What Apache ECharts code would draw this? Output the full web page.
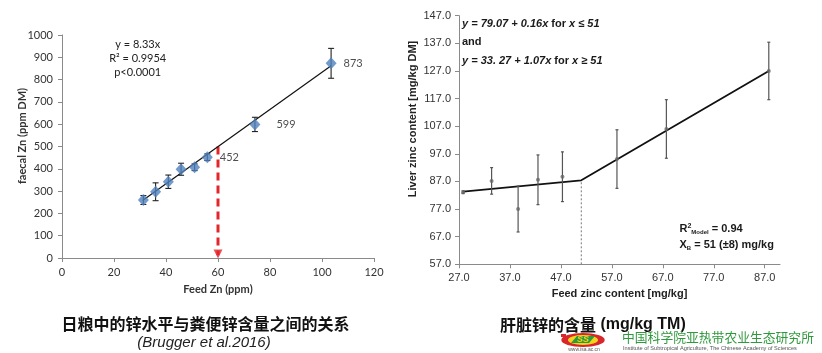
<!DOCTYPE html>
<html>
<head>
<meta charset="utf-8">
<script src="https://cdn.jsdelivr.net/npm/echarts@6/dist/echarts.min.js"></script>
<style>
  html, body { margin: 0; padding: 0; background: #fff; }
  #chart { width: 822px; height: 353px; }
</style>
</head>
<body>
<div id="chart"></div>
<script>
// left panel: feed Zn vs faecal Zn
var feedZn = [31.3, 36.0, 40.9, 45.8, 51.0, 55.9, 74.2, 103.5];
var faecalZn = [260, 297, 342, 398, 407, 452, 599, 873];
var faecalErr = [20, 40, 30, 27, 15, 15, 32, 67];
var labelled = { 452: 7, 599: 16, 873: 7 };   // value -> label distance
var fitX = [31.0, 103.5];
var fitY = [258, 862];
var arrowX = 60;
var arrowTop = 500;

// right panel: feed zinc vs liver zinc
var liverX = [27.8, 33.4, 38.6, 42.5, 47.3, 58.0, 67.7, 87.8];
var liverZn = [83.1, 87.2, 77.0, 87.6, 88.7, 95.1, 106.0, 127.0];
var liverErr = [0.5, 4.8, 8.3, 9.0, 9.0, 10.6, 10.6, 10.4];
var brokenX = [27.8, 51, 87.8];
var brokenY = [83.3, 87.4, 127.0];
var breakX = 51;
var rightXTicks = [27, 37, 47, 57, 67, 77, 87];
var rightYTicks = [57, 67, 77, 87, 97, 107, 117, 127, 137, 147];

var chart = echarts.init(document.getElementById('chart'), null, { renderer: 'canvas' });

function errorBars(color, width, cap) {
  return function (params, api) {
    var x = api.value(0), lo = api.value(1), hi = api.value(2);
    var a = api.coord([x, lo]), b = api.coord([x, hi]);
    var st = { stroke: color, lineWidth: width };
    var kids = [{ type: 'line', shape: { x1: a[0], y1: a[1], x2: b[0], y2: b[1] }, style: st }];
    if (cap > 0) {
      kids.push({ type: 'line', shape: { x1: a[0] - cap, y1: a[1], x2: a[0] + cap, y2: a[1] }, style: st });
      kids.push({ type: 'line', shape: { x1: b[0] - cap, y1: b[1], x2: b[0] + cap, y2: b[1] }, style: st });
    }
    return { type: 'group', children: kids };
  };
}

var leftErrData = feedZn.map(function (x, i) { return [x, faecalZn[i] - faecalErr[i], faecalZn[i] + faecalErr[i]]; });
var rightErrData = liverX.map(function (x, i) { return [x, liverZn[i] - liverErr[i], liverZn[i] + liverErr[i]]; });

var leftPoints = feedZn.map(function (x, i) {
  var v = faecalZn[i];
  var item = { value: [x, v] };
  if (labelled[v] !== undefined) {
    item.label = { show: true, position: 'right', distance: labelled[v], formatter: String(v) };
  }
  return item;
});

var axisGrey = '#8a8a8a';
var latoTxt = { fontFamily: 'Lato', fontSize: 11, color: '#333' };
var arialTxt = { fontFamily: 'Liberation Sans', fontSize: 11, color: '#333' };

var option = {
  backgroundColor: '#fff',
  animation: false,
  grid: [
    { left: 62, right: 448, top: 35, bottom: 95 },
    { left: 459, right: 42, top: 15.7, bottom: 88.7 }
  ],
  xAxis: [
    {
      gridIndex: 0, type: 'value', min: 0, max: 120, interval: 20,
      name: 'Feed Zn (ppm)', nameLocation: 'middle', nameGap: 26,
      nameTextStyle: { fontFamily: 'Lato', fontSize: 11, fontWeight: 'bold', color: '#333' },
      axisLine: { lineStyle: { color: axisGrey } },
      axisTick: { length: 4, lineStyle: { color: axisGrey } },
      axisLabel: Object.assign({ margin: 9, formatter: function (v) { return String(v); } }, latoTxt),
      splitLine: { show: false }
    },
    {
      gridIndex: 1, type: 'value', min: 27, max: 90,
      name: 'Feed zinc content [mg/kg]', nameLocation: 'middle', nameGap: 22,
      nameTextStyle: { fontFamily: 'Liberation Sans', fontSize: 11, fontWeight: 'bold', color: '#222' },
      axisLine: { lineStyle: { color: axisGrey } },
      axisTick: { length: 4, lineStyle: { color: axisGrey }, customValues: rightXTicks },
      axisLabel: Object.assign({ margin: 8, customValues: rightXTicks, formatter: function (v) { return v.toFixed(1); } }, arialTxt),
      splitLine: { show: false }
    }
  ],
  yAxis: [
    {
      gridIndex: 0, type: 'value', min: 0, max: 1000, interval: 100,
      axisLine: { show: true, lineStyle: { color: axisGrey } },
      axisTick: { show: true, length: 4, lineStyle: { color: axisGrey } },
      axisLabel: Object.assign({ margin: 9, formatter: function (v) { return String(v); } }, latoTxt),
      splitLine: { show: false }
    },
    {
      gridIndex: 1, type: 'value', min: 57, max: 147,
      axisLine: { show: true, lineStyle: { color: axisGrey } },
      axisTick: { show: true, length: 4, lineStyle: { color: axisGrey }, customValues: rightYTicks },
      axisLabel: Object.assign({ margin: 8, customValues: rightYTicks, formatter: function (v) { return v.toFixed(1); } }, arialTxt),
      splitLine: { show: false }
    }
  ],
  series: [
    {
      type: 'line', xAxisIndex: 0, yAxisIndex: 0, symbol: 'none', silent: true,
      data: [[arrowX, arrowTop], [arrowX, 12]],
      lineStyle: { color: '#e3262b', width: 3, type: [8, 5] }, z: 3
    },
    {
      type: 'scatter', xAxisIndex: 0, yAxisIndex: 0, silent: true,
      data: [[arrowX, 18]], symbol: 'triangle', symbolRotate: 180, symbolSize: [9, 9],
      itemStyle: { color: '#e3262b' }, z: 3
    },
    {
      type: 'line', xAxisIndex: 0, yAxisIndex: 0, symbol: 'none', silent: true,
      data: fitX.map(function (x, i) { return [x, fitY[i]]; }),
      lineStyle: { color: '#111', width: 1.2 }, z: 4
    },
    {
      type: 'custom', xAxisIndex: 0, yAxisIndex: 0, silent: true,
      renderItem: errorBars('#222', 1.1, 3), data: leftErrData, z: 5
    },
    {
      type: 'scatter', xAxisIndex: 0, yAxisIndex: 0, silent: true,
      data: leftPoints, symbol: 'diamond', symbolSize: [11, 12],
      itemStyle: { color: '#4f81bd' },
      label: { show: false, fontFamily: 'Lato', fontSize: 11, color: '#222' }, z: 6
    },
    {
      type: 'line', xAxisIndex: 1, yAxisIndex: 1, symbol: 'none', silent: true,
      data: [[breakX, 57], [breakX, brokenY[1]]],
      lineStyle: { color: '#777', width: 1, type: [2, 2] }, z: 3
    },
    {
      type: 'line', xAxisIndex: 1, yAxisIndex: 1, symbol: 'none', silent: true,
      data: brokenX.map(function (x, i) { return [x, brokenY[i]]; }),
      lineStyle: { color: '#111', width: 1.8 }, z: 4
    },
    {
      type: 'custom', xAxisIndex: 1, yAxisIndex: 1, silent: true,
      renderItem: errorBars('#555', 1.2, 1.5), data: rightErrData, z: 5
    },
    {
      type: 'scatter', xAxisIndex: 1, yAxisIndex: 1, silent: true,
      data: liverX.map(function (x, i) { return [x, liverZn[i]]; }),
      symbol: 'circle', symbolSize: 4, itemStyle: { color: '#666' }, z: 6
    }
  ],
  graphic: [
    // left annotation
    {
      type: 'text', x: 137.7, y: 58,
      style: {
        text: 'y = 8.33x\nR² = 0.9954\np<0.0001', align: 'center', verticalAlign: 'middle',
        lineHeight: 14, fontFamily: 'Lato', fontSize: 11, fill: '#222'
      }
    },
    {
      type: 'text', x: 22.7, y: 136, rotation: Math.PI / 2,
      style: {
        text: 'faecal Zn (ppm DM)', align: 'center', verticalAlign: 'middle',
        fontFamily: 'Lato', fontSize: 11, fontWeight: 'bold', fill: '#333'
      }
    },
    {
      type: 'text', x: 413.3, y: 119, rotation: Math.PI / 2,
      style: {
        text: 'Liver zinc content [mg/kg DM]', align: 'center', verticalAlign: 'middle',
        fontFamily: 'Liberation Sans', fontSize: 11, fontWeight: 'bold', fill: '#222'
      }
    },
    // right annotations
    {
      type: 'text', x: 462, y: 42.3,
      style: {
        text: '{i|y = 79.07 + 0.16x}{n| for }{i|x ≤ 51}\n{n|and}\n{i|y = 33. 27 + 1.07x}{n| for }{i|x ≥ 51}',
        verticalAlign: 'middle', lineHeight: 18.3,
        rich: {
          i: { fontFamily: 'Liberation Sans', fontSize: 11, fontWeight: 'bold', fontStyle: 'italic', fill: '#1a1a1a', lineHeight: 18.3 },
          n: { fontFamily: 'Liberation Sans', fontSize: 11, fontWeight: 'bold', fill: '#1a1a1a', lineHeight: 18.3 }
        }
      }
    },
    {
      type: 'text', x: 679.5, y: 237,
      style: {
        text: '{b|R}{sup|2}{sub|Model}{b| = 0.94}\n{b|X}{sub|B}{b| = 51 (±8) mg/kg}',
        verticalAlign: 'middle', lineHeight: 16,
        rich: {
          b: { fontFamily: 'Liberation Sans', fontSize: 11, fontWeight: 'bold', fill: '#1a1a1a', lineHeight: 16 },
          sup: { fontFamily: 'Liberation Sans', fontSize: 7, fontWeight: 'bold', fill: '#1a1a1a', lineHeight: 16, verticalAlign: 'top', padding: [2, 0, 0, 0] },
          sub: { fontFamily: 'Liberation Sans', fontSize: 6, fontWeight: 'bold', fill: '#1a1a1a', lineHeight: 16, verticalAlign: 'bottom', padding: [0, 0, 2, 0] }
        }
      }
    },
    // captions
    {
      type: 'text', x: 205.5, y: 324,
      style: {
        text: '日粮中的锌水平与粪便锌含量之间的关系', align: 'center', verticalAlign: 'middle',
        fontFamily: 'Noto Sans CJK SC', fontSize: 16, fontWeight: 'bold', fill: '#111'
      }
    },
    {
      type: 'text', x: 204, y: 343,
      style: {
        text: '(Brugger et al.2016)', align: 'center', verticalAlign: 'middle',
        fontFamily: 'Liberation Sans', fontSize: 15, fontStyle: 'italic', fill: '#222'
      }
    },
    {
      type: 'text', x: 500, y: 325,
      style: {
        text: '{c|肝脏锌的含量}{l| (mg/kg TM)}', verticalAlign: 'middle',
        rich: {
          c: { fontFamily: 'Noto Sans CJK SC', fontSize: 16, fontWeight: 'bold', fill: '#111' },
          l: { fontFamily: 'Liberation Sans', fontSize: 16, fontWeight: 'bold', fill: '#111' }
        }
      }
    },
    // institute logo
    {
      type: 'group', x: 583, y: 340,
      children: [
        { type: 'circle', shape: { cx: 0, cy: 0, r: 7 }, scaleX: 3.1, style: { fill: '#d8262c' } },
        { type: 'circle', shape: { cx: 0, cy: 0, r: 5 }, scaleX: 3.0, style: { fill: '#f3d31c' } },
        { type: 'polygon', shape: { points: [[-12, 3], [-6, -4], [12, -4], [6, 3]] }, style: { fill: '#2f9a3c' } },
        { type: 'text', x: 0, y: 0, style: { text: 'SS', align: 'center', verticalAlign: 'middle', fontFamily: 'Liberation Sans', fontSize: 9, fontWeight: 'bold', fontStyle: 'italic', fill: '#f3d31c' } },
        { type: 'rect', shape: { x: -22, y: -6, width: 5, height: 3 }, style: { fill: '#d8262c' } }
      ]
    },
    {
      type: 'text', x: 622, y: 337,
      style: {
        text: '中国科学院亚热带农业生态研究所', verticalAlign: 'middle',
        fontFamily: 'Noto Sans CJK SC', fontSize: 12.8, fill: '#2f9a3c'
      }
    },
    {
      type: 'text', x: 623, y: 348.5,
      style: {
        text: 'Institute of Subtropical Agriculture, The Chinese Academy of Sciences', verticalAlign: 'middle',
        fontFamily: 'Liberation Sans', fontSize: 5.6, fill: '#555'
      }
    },
    {
      type: 'text', x: 584, y: 350,
      style: {
        text: 'www.isa.ac.cn', align: 'center', verticalAlign: 'middle',
        fontFamily: 'Liberation Sans', fontSize: 5, fill: '#555'
      }
    }
  ]
};

chart.setOption(option);
</script>
</body>
</html>
